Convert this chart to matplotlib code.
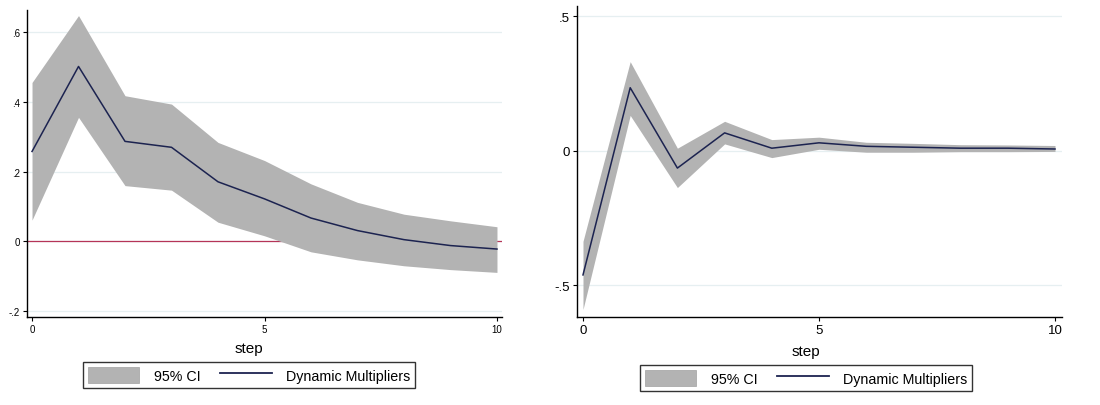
import matplotlib
matplotlib.use('Agg')
import matplotlib.pyplot as plt
from matplotlib.patches import Patch
from matplotlib.lines import Line2D

# impulse response data
steps = [0, 1, 2, 3, 4, 5, 6, 7, 8, 9, 10]

left_irf = [0.258, 0.502, 0.287, 0.270, 0.171, 0.122, 0.067, 0.031, 0.005, -0.012, -0.022]
left_hi = [0.456, 0.648, 0.418, 0.394, 0.284, 0.232, 0.165, 0.112, 0.078, 0.059, 0.042]
left_lo = [0.061, 0.356, 0.160, 0.147, 0.055, 0.016, -0.030, -0.053, -0.070, -0.081, -0.089]

right_irf = [-0.4625, 0.234, -0.065, 0.066, 0.009, 0.029, 0.016, 0.0125, 0.009, 0.009, 0.006]
right_hi = [-0.3375, 0.331, 0.009, 0.109, 0.041, 0.050, 0.031, 0.027, 0.022, 0.021, 0.019]
right_lo = [-0.591, 0.131, -0.1375, 0.025, -0.026, 0.005, -0.006, -0.006, -0.004, -0.004, -0.003]

left_yticks = [-0.2, 0, 0.2, 0.4, 0.6]
left_ylabels = ['-.2', '0', '.2', '.4', '.6']
right_yticks = [-0.5, 0, 0.5]
right_ylabels = ['-.5', '0', '.5']
xticks = [0, 5, 10]

plt.rcParams['font.family'] = ['Liberation Sans', 'DejaVu Sans']

band_col = '#b3b3b3'
line_col = '#1c2350'
grid_col = '#e6eff1'

fig = plt.figure(figsize=(11, 4.06), dpi=100)
ax1 = fig.add_axes([27/1100, 88/406, 475/1100, 307/406])
ax2 = fig.add_axes([577/1100, 88/406, 485/1100, 311/406])


def style(ax, yt, yl, fs):
    for s in ['top', 'right']:
        ax.spines[s].set_visible(False)
    ax.spines['left'].set_linewidth(1.0)
    ax.spines['bottom'].set_linewidth(1.0)
    ax.set_yticks(yt)
    ax.set_yticklabels(yl, fontsize=fs)
    ax.set_xticks(xticks)
    ax.set_xticklabels([str(t) for t in xticks], fontsize=fs)
    ax.tick_params(length=3, width=0.8, pad=2)
    ax.grid(axis='y', color=grid_col, linewidth=0.9)
    ax.set_axisbelow(True)


# left panel
ax1.fill_between(steps, left_lo, left_hi, color=band_col, linewidth=0, zorder=2)
ax1.axhline(0, color='#b53558', linewidth=0.9, zorder=1.5)
ax1.plot(steps, left_irf, color=line_col, linewidth=1.1, zorder=3)
ax1.set_xlim(-0.108, 10.108)
ax1.set_ylim(-0.217, 0.664)
style(ax1, left_yticks, left_ylabels, 7)

# right panel
ax2.fill_between(steps, right_lo, right_hi, color=band_col, linewidth=0, zorder=2)
ax2.plot(steps, right_irf, color=line_col, linewidth=1.1, zorder=3)
ax2.set_xlim(-0.127, 10.148)
ax2.set_ylim(-0.619, 0.538)
style(ax2, right_yticks, right_ylabels, 9.5)

handles = [Patch(facecolor=band_col, edgecolor='#a0a0a0', linewidth=0.5),
           Line2D([], [], color=line_col, linewidth=1.3)]
labels = ['95% CI', 'Dynamic Multipliers']

fig.text(249/1100, 1 - 349/406, 'step', fontsize=11, ha='center', va='center')
fig.text(806/1100, 1 - 352/406, 'step', fontsize=11, ha='center', va='center')

for cx, cy in [(249, 376), (806, 379)]:
    leg = fig.legend(handles, labels, loc='center', bbox_to_anchor=(cx/1100, 1 - cy/406),
                     ncol=2, fontsize=10.3, frameon=True, fancybox=False, handlelength=3.6,
                     handleheight=1.4, columnspacing=1.4, borderpad=0.35, handletextpad=1.0)
    leg.get_frame().set_edgecolor('black')
    leg.get_frame().set_linewidth(1.0)

plt.savefig('out.png', dpi=100)
